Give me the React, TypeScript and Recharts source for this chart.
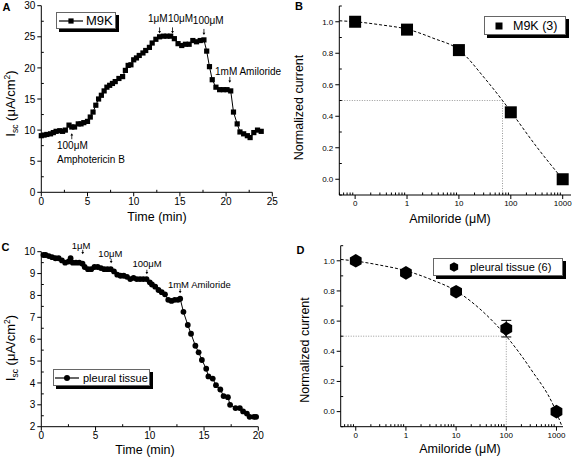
import React from "react"
import { ComposedChart, Line, Scatter, XAxis, YAxis, ReferenceLine, ReferenceDot, Legend, ErrorBar } from "recharts"

const W = 574
const H = 460
const FONT = "Arial, 'Liberation Sans', Helvetica, sans-serif"

// A: short-circuit current of M9K cells (µA/cm²) against time (min)
const timeA = [0, 0.3, 0.6, 1, 1.3, 1.6, 2, 2.3, 2.6, 3, 3.3, 3.6, 4, 4.3, 4.6, 5, 5.3, 5.6, 5.9, 6.2, 6.5, 6.8, 7.1, 7.4, 7.7, 8, 8.4, 8.8, 9.1, 9.4, 9.7, 10, 10.3, 10.6, 11, 11.3, 11.7, 12, 12.4, 12.8, 13.2, 13.6, 14, 14.4, 14.8, 15.2, 15.6, 16, 16.4, 16.8, 17.2, 17.6, 17.9, 18.2, 18.5, 18.9, 19.3, 19.7, 20.1, 20.5, 20.8, 21.2, 21.5, 21.9, 22.3, 22.6, 23, 23.4, 23.8]
const iscA = [9.1, 9.2, 9.3, 9.4, 9.6, 9.8, 9.9, 9.8, 10.0, 10.8, 10.5, 10.5, 11.0, 11.0, 11.2, 11.4, 12.1, 12.9, 14.0, 15.0, 15.6, 16.3, 16.9, 17.2, 17.5, 17.8, 18.3, 18.6, 19.6, 20.4, 20.5, 21.3, 21.6, 22.0, 22.4, 22.8, 23.3, 24.0, 24.6, 25.0, 25.1, 25.1, 25.1, 24.7, 23.9, 23.6, 23.8, 23.8, 24.4, 24.2, 24.4, 24.5, 22.7, 20.2, 18.1, 16.9, 16.5, 16.5, 16.5, 16.3, 12.9, 11.0, 9.7, 9.4, 9.1, 8.8, 9.6, 10.0, 9.8]

// C: pleural tissue
const timeC = [0.2, 0.4, 0.7, 1.0, 1.3, 1.6, 1.9, 2.2, 2.5, 2.7, 2.9, 3.2, 3.5, 3.8, 4.0, 4.3, 4.6, 4.9, 5.2, 5.5, 5.8, 6.1, 6.4, 6.7, 7.0, 7.3, 7.6, 7.9, 8.2, 8.5, 8.8, 9.1, 9.4, 9.7, 10.0, 10.2, 10.5, 10.8, 11.1, 11.4, 11.7, 12.0, 12.3, 12.6, 12.8, 13.1, 13.5, 13.8, 14.2, 14.5, 14.8, 15.2, 15.4, 15.8, 16.1, 16.5, 16.8, 17.2, 17.4, 17.9, 18.3, 18.6, 18.95, 19.2, 19.6, 19.8]
const iscC = [9.85, 9.85, 9.8, 9.75, 9.7, 9.7, 9.6, 9.5, 9.55, 9.7, 9.5, 9.5, 9.5, 9.45, 9.3, 9.2, 9.2, 9.3, 9.3, 9.25, 9.2, 9.2, 9.2, 9.1, 8.95, 8.9, 8.9, 8.85, 8.75, 8.8, 8.75, 8.75, 8.75, 8.75, 8.6, 8.5, 8.4, 8.25, 8.15, 8.05, 7.8, 7.75, 7.8, 7.8, 7.85, 7.25, 6.65, 6.25, 5.7, 5.4, 5.05, 4.65, 4.3, 4.2, 3.9, 3.7, 3.4, 3.35, 3.0, 2.85, 2.85, 2.7, 2.6, 2.45, 2.45, 2.45]

// B/D: amiloride dose response. x is log10(µM); the "0" dose is drawn one decade below 1 µM
const doseLog = [-1, 0, 1, 2, 3]
const doseLabel = ["0", "1", "10", "100", "1000"]
const normB = [1.0, 0.95, 0.82, 0.425, 0.0]
const normD = [1.0, 0.92, 0.795, 0.55, 0.0]
const semD = [0, 0, 0, 0.055, 0]

// fitted (dashed) curves
const fitLogB = [-1.305, -1, -0.5, 0, 0.5, 1, 1.5, 1.84, 2, 2.5, 3]
const fitB = [1.006, 1.0, 0.98, 0.953, 0.896, 0.822, 0.64, 0.5, 0.43, 0.205, 0.0]
const fitLogD = [-1.3, -1, -0.5, 0, 0.5, 1, 1.5, 2, 2.5, 2.95, 3.1]
const fitD = [1.009, 0.998, 0.97, 0.934, 0.876, 0.8, 0.673, 0.5, 0.276, 0.033, -0.09]
const halfLogB = 1.84
const halfLogD = 2.0

const range = (a: number, b: number, s: number) => {
  const out: number[] = []
  for (let i = 0; a + i * s <= b + 1e-9; i++) out.push(+(a + i * s).toFixed(4))
  return out
}
const every = (step: number, base = 0) => (v: number) => {
  const q = (v - base) / step
  return Math.abs(q - Math.round(q)) < 1e-6
}
const logMinor = (lo: number, hi: number) => {
  const out: number[] = []
  for (let d = -2; d <= 3; d++) for (let k = 2; k <= 9; k++) {
    const v = Math.log10(k * Math.pow(10, d))
    if (v > lo && v < hi) out.push(v)
  }
  return out
}

const xTick = (isMajor: (v: number) => boolean, fmt: (v: number) => string, fs: number) => (p: any) => {
  const { x, y, payload } = p
  const major = isMajor(payload.value)
  return (
    <g>
      <line x1={x} x2={x} y1={y} y2={major ? y + 4 : y - 2.5} stroke="#000" strokeWidth={1} />
      {major && (
        <text x={x} y={y + 5 + fs * 0.75} textAnchor="middle" fontSize={fs} fontFamily={FONT} fill="#000">
          {fmt(payload.value)}
        </text>
      )}
    </g>
  )
}
const yTick = (isMajor: (v: number) => boolean, fmt: (v: number) => string, fs: number) => (p: any) => {
  const { x, y, payload } = p
  const major = isMajor(payload.value)
  return (
    <g>
      <line x1={x} x2={major ? x - 4 : x + 2.5} y1={y} y2={y} stroke="#000" strokeWidth={1} />
      {major && (
        <text x={x - 6} y={y + fs * 0.36} textAnchor="end" fontSize={fs} fontFamily={FONT} fill="#000">
          {fmt(payload.value)}
        </text>
      )}
    </g>
  )
}

// axis titles sit at fixed page positions ("at"), so the props recharts passes in are ignored
function Title({ at, text, rotate }: any) {
  const [tx, ty] = at
  return (
    <text x={tx} y={ty} transform={rotate ? `rotate(-90 ${tx} ${ty})` : undefined} textAnchor="middle" fontSize={12.5} fontFamily={FONT} fill="#000">
      {text}
    </text>
  )
}

function IscTitle({ at }: any) {
  const [tx, ty] = at
  return (
    <text x={tx} y={ty} transform={`rotate(-90 ${tx} ${ty})`} textAnchor="middle" fontSize={13} fontFamily={FONT} fill="#000">
      I<tspan fontSize={8.5} dy={3}>sc</tspan>
      <tspan dy={-3}> (μA/cm</tspan>
      <tspan fontSize={8.5} dy={-5}>2</tspan>
      <tspan dy={5}>)</tspan>
    </text>
  )
}

const arrowShape = (up: boolean, len: number) => (p: any) => {
  const { cx, cy } = p
  const s = up ? 1 : -1
  return (
    <g>
      <line x1={cx} x2={cx} y1={cy + s * 1.5} y2={cy + s * len} stroke="#000" strokeWidth={0.8} />
      <path d={`M${cx - 1.4},${cy + s * 2.3}L${cx},${cy}L${cx + 1.4},${cy + s * 2.3}Z`} fill="#000" />
    </g>
  )
}
const noteShape = (text: string, fs: number) => (p: any) => (
  <text x={p.cx} y={p.cy} fontSize={fs} fontFamily={FONT} fill="#000">
    {text}
  </text>
)

function LegendBox({ width, height, symbol, label, fs }: any) {
  return (
    <div style={{ position: "relative", width, height }}>
      <div style={{ position: "absolute", left: 3, top: 3, width, height, background: "#000" }} />
      <div
        style={{
          position: "absolute", left: 0, top: 0, width: width - 2, height: height - 2, background: "#fff",
          border: "1px solid #666", display: "flex", alignItems: "center", fontFamily: FONT, fontSize: fs, whiteSpace: "nowrap",
        }}
      >
        {symbol}
        <span>{label}</span>
      </div>
    </div>
  )
}

const hexPath = (cx: number, cy: number, r: number) =>
  [0, 1, 2, 3, 4, 5]
    .map((i) => {
      const a = (Math.PI / 3) * i + Math.PI / 6
      return `${i ? "L" : "M"}${cx + r * Math.cos(a)},${cy + r * Math.sin(a)}`
    })
    .join("") + "Z"

const squareDot = (p: any) => <rect key={`s${p.index}`} x={p.cx - 2.6} y={p.cy - 2.6} width={5.2} height={5.2} fill="#000" />
const circleDot = (p: any) => <circle key={`c${p.index}`} cx={p.cx} cy={p.cy} r={2.9} fill="#000" />

function TraceA() {
  const data = timeA.map((t, i) => ({ x: t, y: iscA[i] }))
  const arrows = [
    { x: 3.3, y: 9.5, up: true },
    { x: 12.8, y: 25.55, up: false },
    { x: 14.2, y: 25.55, up: false },
    { x: 17.6, y: 25.3, up: false },
    { x: 20.4, y: 17.6, up: false },
  ]
  const notes = [
    { x: 1.7, y: 6.95, text: "100μM" },
    { x: 1.7, y: 4.7, text: "Amphotericin B" },
    { x: 11.55, y: 27.4, text: "1μM" },
    { x: 13.7, y: 27.4, text: "10μM" },
    { x: 16.4, y: 27.05, text: "100μM" },
    { x: 18.8, y: 18.85, text: "1mM Amiloride" },
  ]
  return (
    <ComposedChart width={W} height={H} margin={{ left: 11.3, top: 5.7, right: 301.7, bottom: 247.7 }}>
      <XAxis
        type="number" dataKey="x" domain={[0, 25]} ticks={range(0, 25, 2.5)} interval={0} height={20}
        tickSize={0} tickMargin={0} tickLine={false} stroke="#000" tick={xTick(every(5), (v) => String(v), 10)}
        label={<Title at={[157, 221]} text="Time (min)" />}
      />
      <YAxis
        type="number" domain={[0, 30]} ticks={range(0, 30, 2.5)} interval={0} width={30}
        tickSize={0} tickMargin={0} tickLine={false} stroke="#000" tick={yTick(every(5), (v) => String(v), 10)}
        label={<IscTitle at={[15, 103.5]} />}
      />
      <Line data={data} dataKey="y" stroke="#000" strokeWidth={1} dot={squareDot} isAnimationActive={false} />
      {arrows.map((a, i) => (
        <ReferenceDot key={`a${i}`} x={a.x} y={a.y} ifOverflow="visible" shape={arrowShape(a.up, 6)} />
      ))}
      {notes.map((n, i) => (
        <ReferenceDot key={`n${i}`} x={n.x} y={n.y} ifOverflow="visible" shape={noteShape(n.text, 10)} />
      ))}
      <Legend
        layout="horizontal" verticalAlign="middle" align="center"
        wrapperStyle={{ left: 56, top: 12, width: 60, height: 17 }}
        content={() => (
          <LegendBox
            width={60} height={17} fs={13} label="M9K"
            symbol={
              <svg width={28} height={12} style={{ flex: "none", marginRight: 1 }}>
                <line x1={2} x2={26} y1={6} y2={6} stroke="#000" strokeWidth={1.2} />
                <rect x={11.4} y={3.4} width={5.2} height={5.2} fill="#000" />
              </svg>
            }
          />
        )}
      />
    </ComposedChart>
  )
}

function TraceC() {
  const data = timeC.map((t, i) => ({ x: t, y: iscC[i] }))
  const arrows = [
    { x: 3.82, y: 9.88 },
    { x: 6.44, y: 9.47 },
    { x: 9.73, y: 8.97 },
    { x: 12.8, y: 8.1 },
  ]
  const notes = [
    { x: 2.8, y: 10.12, text: "1μM" },
    { x: 5.26, y: 9.77, text: "10μM" },
    { x: 8.4, y: 9.28, text: "100μM" },
    { x: 11.67, y: 8.36, text: "1mM Amiloride" },
  ]
  return (
    <ComposedChart width={W} height={H} margin={{ left: 11.3, top: 251.7, right: 315.7, bottom: 13.3 }}>
      <XAxis
        type="number" dataKey="x" domain={[0, 20]} ticks={range(0, 20, 2.5)} interval={0} height={20}
        tickSize={0} tickMargin={0} tickLine={false} stroke="#000" tick={xTick(every(5), (v) => String(v), 10)}
        label={<Title at={[145, 454]} text="Time (min)" />}
      />
      <YAxis
        type="number" domain={[2, 10]} ticks={range(2, 10, 0.5)} interval={0} width={30}
        tickSize={0} tickMargin={0} tickLine={false} stroke="#000" tick={yTick(every(1), (v) => String(v), 10)}
        label={<IscTitle at={[15, 348]} />}
      />
      <Line data={data} dataKey="y" stroke="#000" strokeWidth={1} dot={circleDot} isAnimationActive={false} />
      {arrows.map((a, i) => (
        <ReferenceDot key={`a${i}`} x={a.x} y={a.y} ifOverflow="visible" shape={arrowShape(false, 4.5)} />
      ))}
      {notes.map((n, i) => (
        <ReferenceDot key={`n${i}`} x={n.x} y={n.y} ifOverflow="visible" shape={noteShape(n.text, 9.5)} />
      ))}
      <Legend
        layout="horizontal" verticalAlign="middle" align="center"
        wrapperStyle={{ left: 53, top: 369, width: 97, height: 17 }}
        content={() => (
          <LegendBox
            width={97} height={17} fs={11} label="pleural tissue"
            symbol={
              <svg width={28} height={12} style={{ flex: "none", marginRight: 1 }}>
                <line x1={1} x2={25} y1={6} y2={6} stroke="#000" strokeWidth={1.2} />
                <circle cx={13} cy={6} r={3} fill="#000" />
              </svg>
            }
          />
        )}
      />
    </ComposedChart>
  )
}

function DosePanel({ norm, sem, fitLog, fit, halfLog, margin, xDomain, marker, legend, xTitle, yTitle }: any) {
  const pts = doseLog.map((x, i) => ({ x, y: norm[i], err: sem ? sem[i] : 0 }))
  const curve = fitLog.map((x: number, i: number) => ({ x, y: fit[i] }))
  const xTicks = [...doseLog, ...logMinor(xDomain[0], xDomain[1])].sort((a, b) => a - b)
  const isMajorX = (v: number) => doseLog.includes(v)
  return (
    <ComposedChart width={W} height={H} margin={margin}>
      <XAxis
        type="number" dataKey="x" domain={xDomain} ticks={xTicks} interval={0} height={20} allowDataOverflow
        tickSize={0} tickMargin={0} tickLine={false} stroke="#000"
        tick={xTick(isMajorX, (v) => doseLabel[doseLog.indexOf(v)], 8)}
        label={<Title at={xTitle} text="Amiloride (μM)" />}
      />
      <YAxis
        type="number" domain={[-0.1, 1.1]} ticks={range(-0.1, 1.1, 0.1)} interval={0} width={30} allowDataOverflow
        tickSize={0} tickMargin={0} tickLine={false} stroke="#000"
        tick={yTick(every(0.2), (v) => v.toFixed(1), 8)}
        label={<Title at={yTitle} text="Normalized current" rotate />}
      />
      <ReferenceLine segment={[{ x: xDomain[0], y: 0.5 }, { x: halfLog, y: 0.5 }]} stroke="#999" strokeDasharray="1 1.5" />
      <ReferenceLine segment={[{ x: halfLog, y: 0.5 }, { x: halfLog, y: -0.1 }]} stroke="#999" strokeDasharray="1 1.5" />
      <Line data={curve} dataKey="y" type="monotone" stroke="#000" strokeWidth={1} strokeDasharray="3 2" dot={false} isAnimationActive={false} />
      <Scatter data={pts} dataKey="y" isAnimationActive={false} shape={marker}>
        {sem && <ErrorBar dataKey="err" direction="y" width={5} stroke="#000" strokeWidth={1} />}
      </Scatter>
      {legend}
    </ComposedChart>
  )
}

const bigSquare = (p: any) => <rect x={p.cx - 6} y={p.cy - 6} width={12} height={12} fill="#000" />
const bigHex = (p: any) => <path d={hexPath(p.cx, p.cy, 6.8)} fill="#000" />

function Letter({ x, y, text }: any) {
  return (
    <div style={{ position: "absolute", left: x, top: y, fontFamily: FONT, fontWeight: "bold", fontSize: 11, lineHeight: "11px" }}>
      {text}
    </div>
  )
}

export default function App() {
  const legendB = (
    <Legend
      layout="horizontal" verticalAlign="middle" align="center"
      wrapperStyle={{ left: 484, top: 16, width: 82, height: 19 }}
      content={() => (
        <LegendBox
          width={82} height={19} fs={12.5} label="M9K (3)"
          symbol={
            <svg width={28} height={12} style={{ flex: "none" }}>
              <rect x={10.5} y={2.5} width={7} height={7} fill="#000" />
            </svg>
          }
        />
      )}
    />
  )
  const legendD = (
    <Legend
      layout="horizontal" verticalAlign="middle" align="center"
      wrapperStyle={{ left: 433, top: 258, width: 130, height: 18 }}
      content={() => (
        <LegendBox
          width={130} height={18} fs={11} label="pleural tissue (6)"
          symbol={
            <svg width={36} height={12} style={{ flex: "none" }}>
              <path d={hexPath(20, 6, 4.8)} fill="#000" />
            </svg>
          }
        />
      )}
    />
  )
  const layer: React.CSSProperties = { position: "absolute", left: 0, top: 0 }
  return (
    <div style={{ position: "absolute", left: 0, top: 0, width: W, height: H, background: "#fff", overflow: "hidden" }}>
      <div style={layer}>
        <TraceA />
      </div>
      <div style={layer}>
        <DosePanel
          norm={normB} fitLog={fitLogB} fit={fitB} halfLog={halfLogB}
          margin={{ left: 309.3, top: 6, right: 3, bottom: 245 }} xDomain={[-1.305, 3.16]}
          marker={bigSquare} legend={legendB} xTitle={[450, 223]} yTitle={[303, 107.5]}
        />
      </div>
      <div style={layer}>
        <TraceC />
      </div>
      <div style={layer}>
        <DosePanel
          norm={normD} sem={semD} fitLog={fitLogD} fit={fitD} halfLog={halfLogD}
          margin={{ left: 310.7, top: 245.7, right: 11, bottom: 13.3 }} xDomain={[-1.3, 3.13]}
          marker={bigHex} legend={legendD} xTitle={[460, 453]} yTitle={[309, 350]}
        />
      </div>
      <Letter x={2.5} y={2} text="A" />
      <Letter x={295} y={1} text="B" />
      <Letter x={1.5} y={242} text="C" />
      <Letter x={296.5} y={245} text="D" />
    </div>
  )
}
